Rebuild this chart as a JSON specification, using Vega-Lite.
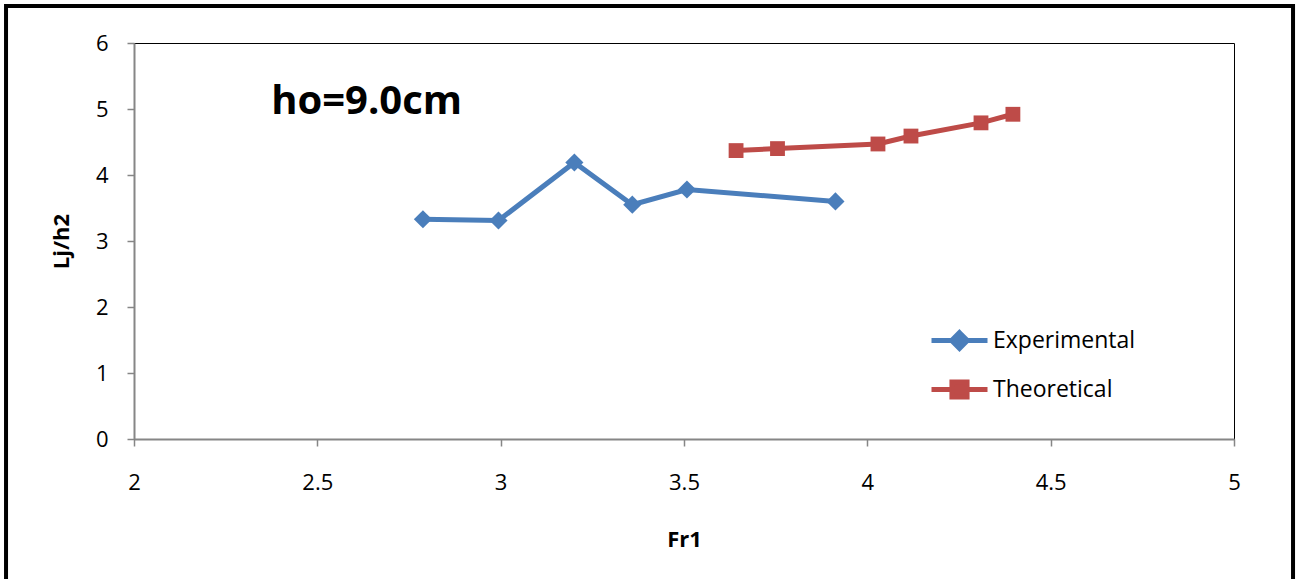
{
  "$schema": "https://vega.github.io/schema/vega-lite/v6.json",
  "width": 1100,
  "height": 396,
  "autosize": {"type": "none"},
  "padding": {"left": 134, "top": 43, "right": 67, "bottom": 140},
  "background": "white",
  "config": {
    "view": {"stroke": "black", "strokeWidth": 1},
    "font": "Open Sans"
  },
  "data": {
    "values": [
      {"Fr1": 2.788, "Ljh2": 3.33, "series": "Experimental"},
      {"Fr1": 2.994, "Ljh2": 3.31, "series": "Experimental"},
      {"Fr1": 3.201, "Ljh2": 4.19, "series": "Experimental"},
      {"Fr1": 3.359, "Ljh2": 3.55, "series": "Experimental"},
      {"Fr1": 3.508, "Ljh2": 3.78, "series": "Experimental"},
      {"Fr1": 3.913, "Ljh2": 3.6, "series": "Experimental"},
      {"Fr1": 3.642, "Ljh2": 4.37, "series": "Theoretical"},
      {"Fr1": 3.755, "Ljh2": 4.4, "series": "Theoretical"},
      {"Fr1": 4.029, "Ljh2": 4.47, "series": "Theoretical"},
      {"Fr1": 4.119, "Ljh2": 4.59, "series": "Theoretical"},
      {"Fr1": 4.31, "Ljh2": 4.79, "series": "Theoretical"},
      {"Fr1": 4.397, "Ljh2": 4.92, "series": "Theoretical"}
    ]
  },
  "layer": [
    {
      "data": {"values": [{}]},
      "mark": {"type": "rect", "filled": false, "stroke": "black", "strokeWidth": 4, "clip": false},
      "encoding": {
        "x": {"datum": 1.651, "type": "quantitative", "scale": {"domain": [2, 5]}},
        "x2": {"datum": 5.161},
        "y": {"datum": 6.56, "type": "quantitative", "scale": {"domain": [0, 6]}},
        "y2": {"datum": -2.4}
      }
    },
    {
      "mark": {"type": "line", "strokeWidth": 5},
      "encoding": {
        "x": {
          "field": "Fr1", "type": "quantitative",
          "scale": {"domain": [2, 5], "nice": false, "zero": false},
          "axis": {
            "values": [2, 2.5, 3, 3.5, 4, 4.5, 5], "format": "~g",
            "grid": false, "labelFlush": false,
            "domainColor": "#868686", "domainWidth": 2,
            "tickColor": "#868686", "tickWidth": 1.5, "tickSize": 7,
            "labelFontSize": 22, "labelColor": "black", "labelPadding": 26,
            "labelFont": "Open Sans",
            "title": "Fr1", "titleFontSize": 22, "titleFontWeight": "bold",
            "titleColor": "black", "titlePadding": 36, "titleFont": "Open Sans"
          }
        },
        "y": {
          "field": "Ljh2", "type": "quantitative",
          "scale": {"domain": [0, 6], "nice": false},
          "axis": {
            "values": [0, 1, 2, 3, 4, 5, 6], "format": "~g",
            "grid": false, "labelFlush": false,
            "domainColor": "#868686", "domainWidth": 2,
            "tickColor": "#868686", "tickWidth": 1.5, "tickSize": 7,
            "labelFontSize": 22, "labelColor": "black", "labelPadding": 19,
            "labelFont": "Open Sans",
            "title": "Lj/h2", "titleFontSize": 22, "titleFontWeight": "bold",
            "titleColor": "black", "titlePadding": 22, "titleFont": "Open Sans"
          }
        },
        "color": {
          "field": "series", "type": "nominal",
          "scale": {"domain": ["Experimental", "Theoretical"], "range": ["#4A7EBB", "#BE4B48"]},
          "legend": {
            "orient": "none", "legendX": 795, "legendY": 273,
            "title": null, "padding": 0,
            "symbolSize": 3136, "symbolStrokeWidth": 5,
            "labelFontSize": 23, "labelFont": "Open Sans", "labelColor": "black",
            "labelOffset": 3, "rowPadding": 0, "clipHeight": 49, "symbolOffset": 0,
            "encode": {
              "symbols": {
                "update": {
                  "shape": {"signal": "datum.value === 'Experimental' ? 'M-1,0H1M0,-0.28L0.28,0L0,0.28L-0.28,0Z' : 'M-1,0H1M-0.27,-0.27H0.27V0.27H-0.27Z'"},
                  "fill": {"scale": "color", "field": "value"},
                  "stroke": {"scale": "color", "field": "value"},
                  "opacity": {"value": 1}
                }
              }
            }
          }
        }
      }
    },
    {
      "transform": [{"filter": "datum.series === 'Experimental'"}],
      "mark": {"type": "point", "filled": true, "opacity": 1, "size": 330, "shape": "diamond"},
      "encoding": {
        "x": {"field": "Fr1", "type": "quantitative"},
        "y": {"field": "Ljh2", "type": "quantitative"},
        "color": {"field": "series", "type": "nominal", "legend": null}
      }
    },
    {
      "transform": [{"filter": "datum.series === 'Theoretical'"}],
      "mark": {"type": "point", "filled": true, "opacity": 1, "size": 220, "shape": "square"},
      "encoding": {
        "x": {"field": "Fr1", "type": "quantitative"},
        "y": {"field": "Ljh2", "type": "quantitative"},
        "color": {"field": "series", "type": "nominal", "legend": null}
      }
    },
    {
      "data": {"values": [{"label": "ho=9.0cm", "Fr1": 2.374, "Ljh2": 5.11}]},
      "mark": {"type": "text", "align": "left", "baseline": "middle", "fontSize": 40, "fontWeight": "bold", "font": "Open Sans", "color": "black"},
      "encoding": {
        "x": {"field": "Fr1", "type": "quantitative"},
        "y": {"field": "Ljh2", "type": "quantitative"},
        "text": {"field": "label"}
      }
    }
  ]
}
